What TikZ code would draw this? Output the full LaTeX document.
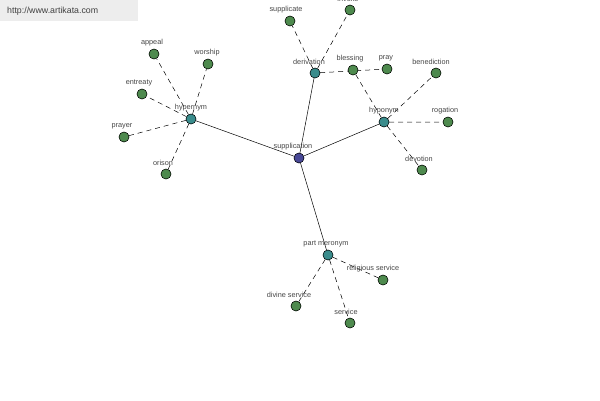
\documentclass[tikz,border=0pt]{standalone}
\usepackage{fontspec}
\setmainfont{Liberation Sans}
\begin{document}
\begin{tikzpicture}[x=1pt,y=-1pt,
  dot/.style={circle,draw=black,line width=0.4pt,minimum size=10pt,inner sep=0pt},
  leaf/.style={dot,fill=leafc},
  rel/.style={dot,fill=relc},
  center/.style={dot,fill=centc},
  lbl/.style={text=lblc,font=\fontsize{7.3}{8}\selectfont,inner sep=0pt},
  solidedge/.style={draw=black,line width=0.5pt},
  dashedge/.style={draw=black,line width=0.5pt,dash pattern=on 5pt off 4pt}]
\definecolor{leafc}{RGB}{78,138,78}
\definecolor{relc}{RGB}{58,140,140}
\definecolor{centc}{RGB}{72,72,150}
\definecolor{lblc}{RGB}{70,70,70}
\useasboundingbox (0,0) rectangle (600,400);
\fill[white] (0,0) rectangle (600,400);
% watermark
\fill[black!7] (0,0) rectangle (138,21);
\node[anchor=west,text=black!75,font=\fontsize{8.8}{10}\selectfont,inner sep=0pt] (wm) at (7,11) {http://www.artikata.com};
% nodes
\node[center] (sup) at (299,158) {};
\node[rel] (hyper) at (191,119) {};
\node[rel] (deriv) at (315,73) {};
\node[rel] (hypo) at (384,122) {};
\node[rel] (part) at (328,255) {};
\node[leaf] (appeal) at (154,54) {};
\node[leaf] (worship) at (208,64) {};
\node[leaf] (entreaty) at (142,94) {};
\node[leaf] (prayer) at (124,137) {};
\node[leaf] (orison) at (166,174) {};
\node[leaf] (supplicate) at (290,21) {};
\node[leaf] (invoke) at (350,10) {};
\node[leaf] (pray) at (387,69) {};
\node[leaf] (benediction) at (436,73) {};
\node[leaf] (rogation) at (448,122) {};
\node[leaf] (devotion) at (422,170) {};
\node[leaf] (relserv) at (383,280) {};
\node[leaf] (divserv) at (296,306) {};
\node[leaf] (service) at (350,323) {};
\node[leaf] (blessing) at (353,70) {};
% edges
\path[solidedge] (sup) -- (hyper) (sup) -- (deriv) (sup) -- (hypo) (sup) -- (part);
\path[dashedge] (hyper) -- (appeal) (hyper) -- (worship) (hyper) -- (entreaty) (hyper) -- (prayer) (hyper) -- (orison);
\path[dashedge] (deriv) -- (supplicate) (deriv) -- (invoke) (deriv) -- (pray);
\path[dashedge] (hypo) -- (benediction) (hypo) -- (rogation) (hypo) -- (devotion);
\path[dashedge] (part) -- (relserv) (part) -- (divserv) (part) -- (service);
\path[dashedge] (hypo) -- (blessing);
% redraw nodes on top
\foreach \n/\s in {sup/center,hyper/rel,deriv/rel,hypo/rel,part/rel,appeal/leaf,worship/leaf,entreaty/leaf,prayer/leaf,orison/leaf,supplicate/leaf,invoke/leaf,pray/leaf,benediction/leaf,rogation/leaf,devotion/leaf,relserv/leaf,divserv/leaf,service/leaf,blessing/leaf}
  \node[\s] at (\n) {};
% labels
\node[lbl] (l1) at (293,147) {supplication};
\node[lbl] (l2) at (191,108) {hypernym};
\node[lbl] (l3) at (309,62) {derivation};
\node[lbl] (l4) at (384,111) {hyponym};
\node[lbl] (l5) at (326,244) {part meronym};
\node[lbl] (l6) at (152,43) {appeal};
\node[lbl] (l7) at (207,53) {worship};
\node[lbl] (l8) at (139,83) {entreaty};
\node[lbl] (l9) at (122,126) {prayer};
\node[lbl] (l10) at (163,163) {orison};
\node[lbl] (l11) at (286,10) {supplicate};
\node[lbl] (l12) at (348,-1) {invoke};
\node[lbl] (l13) at (350,59) {blessing};
\node[lbl] (l14) at (386,58) {pray};
\node[lbl] (l15) at (431,62) {benediction};
\node[lbl] (l16) at (445,111) {rogation};
\node[lbl] (l17) at (419,159) {devotion};
\node[lbl] (l18) at (373,269) {religious service};
\node[lbl] (l19) at (289,295) {divine service};
\node[lbl] (l20) at (346,312) {service};
\end{tikzpicture}
\end{document}
